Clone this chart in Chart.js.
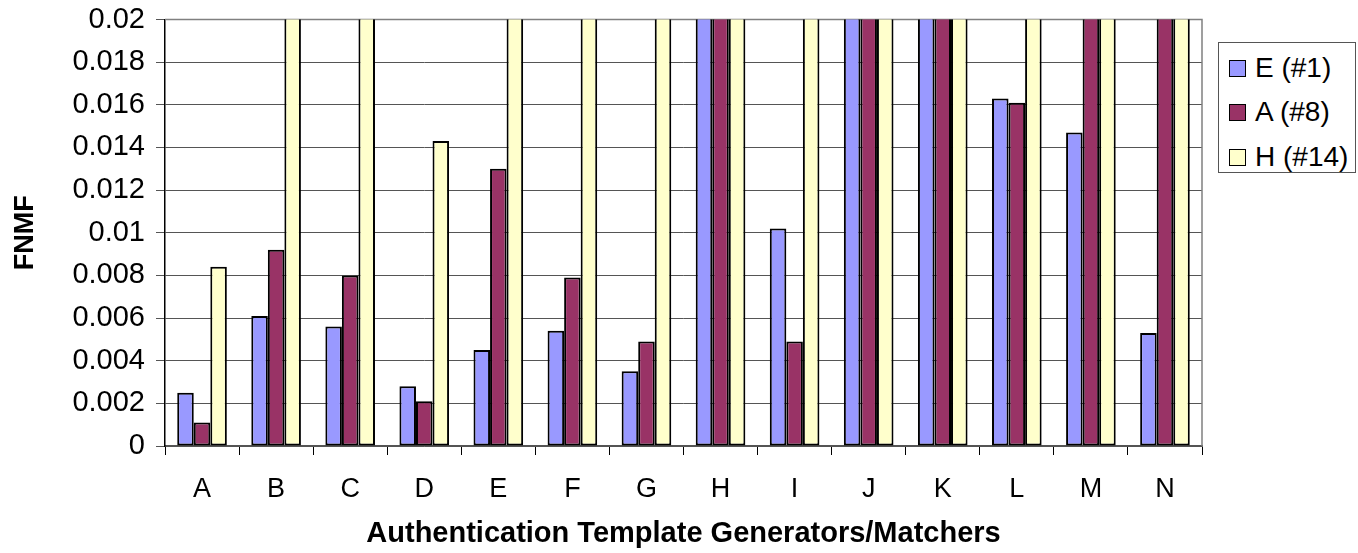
<!DOCTYPE html>
<html>
<head>
<meta charset="utf-8">
<script src="https://cdn.jsdelivr.net/npm/chart.js@4/dist/chart.umd.min.js"></script>
<style>
    html, body { margin: 0; padding: 0; background: #fff; }
    #wrap { position: relative; width: 1358px; height: 553px; }
    #legend {
        position: absolute; left: 1218px; top: 42px; width: 138px; height: 131px;
        border: 1px solid #555; box-sizing: border-box; background: #fff;
        font-family: Arial, 'Liberation Sans', sans-serif; font-size: 28px; color: #000;
    }
    #legend .item { position: absolute; left: 10px; height: 30px; line-height: 30px; white-space: nowrap; }
    #legend .box {
        display: inline-block; width: 17px; height: 17px; box-sizing: border-box;
        border: 1.5px solid #000; vertical-align: middle; margin-right: 9px; margin-top: -3px;
    }
</style>
</head>
<body>
<div id="wrap">
    <canvas id="fnmf-chart" width="1358" height="553"></canvas>
    <div id="legend"></div>
</div>
<script>
    // Data; bars that run past the top of the axis are clipped (value unknown, > 0.02)
    var categories = ['A', 'B', 'C', 'D', 'E', 'F', 'G', 'H', 'I', 'J', 'K', 'L', 'M', 'N'];
    var seriesNames = ['E (#1)', 'A (#8)', 'H (#14)'];
    var seriesColors = ['#9999FF', '#993366', '#FFFFCC'];
    var valuesE1 = [0.0025, 0.0061, 0.0056, 0.0028, 0.0045, 0.0054, 0.0035, 0.03, 0.0102, 0.03, 0.03, 0.0163, 0.0147, 0.0053];
    var valuesA8 = [0.0011, 0.0092, 0.0080, 0.0021, 0.0130, 0.0079, 0.0049, 0.03, 0.0049, 0.03, 0.03, 0.0161, 0.03, 0.03];
    var valuesH14 = [0.0084, 0.03, 0.03, 0.0143, 0.03, 0.03, 0.03, 0.03, 0.03, 0.03, 0.03, 0.03, 0.03, 0.03];
    var yTickLabels = ['0', '0.002', '0.004', '0.006', '0.008', '0.01', '0.012', '0.014', '0.016', '0.018', '0.02'];

    var fontFamily = "Arial, 'Liberation Sans', sans-serif";
    var seriesValues = [valuesE1, valuesA8, valuesH14];

    var datasets = seriesNames.map(function(name, i) {
        return {
            label: name,
            data: seriesValues[i],
            backgroundColor: seriesColors[i],
            borderColor: '#000',
            borderWidth: 2,
            borderSkipped: false,
            clip: 0,
            categoryPercentage: 0.67,
            barPercentage: 1.0
        };
    });

    // Gray frame on the top and right of the plot area
    var plotFrame = {
        id: 'plotFrame',
        beforeDatasetsDraw: function(chart) {
            var a = chart.chartArea;
            var ctx = chart.ctx;
            ctx.save();
            ctx.strokeStyle = '#808080';
            ctx.lineWidth = 1.5;
            ctx.beginPath();
            ctx.moveTo(a.left, a.top);
            ctx.lineTo(a.right, a.top);
            ctx.lineTo(a.right, a.bottom);
            ctx.stroke();
            ctx.restore();
        }
    };

    var ctx = document.getElementById('fnmf-chart');
    var chart = new Chart(ctx, {
        type: 'bar',
        data: { labels: categories, datasets: datasets },
        options: {
            responsive: false,
            animation: false,
            layout: { padding: { left: 0, right: 156, top: 0, bottom: 0 } },
            plugins: {
                legend: { display: false },
                tooltip: { enabled: false }
            },
            scales: {
                x: {
                    grid: {
                        display: true,
                        drawOnChartArea: false,
                        drawTicks: true,
                        tickLength: 9,
                        color: '#000',
                        lineWidth: 1
                    },
                    border: { display: true, color: '#555', width: 1.5 },
                    ticks: {
                        color: '#000',
                        padding: 18,
                        font: { family: fontFamily, size: 27 }
                    },
                    title: {
                        display: true,
                        text: 'Authentication Template Generators/Matchers',
                        color: '#000',
                        padding: { top: 0, bottom: 2 },
                        font: { family: fontFamily, size: 29, weight: 'bold' }
                    },
                    afterFit: function(scale) { scale.height = 107; }
                },
                y: {
                    min: 0,
                    max: 0.02,
                    ticks: {
                        stepSize: 0.002,
                        color: '#000',
                        padding: 11,
                        font: { family: fontFamily, size: 29 },
                        callback: function(value, index) { return yTickLabels[index]; }
                    },
                    grid: {
                        color: '#555',
                        lineWidth: 1,
                        tickLength: 9
                    },
                    border: { display: true, color: '#000', width: 1.5 },
                    title: {
                        display: true,
                        text: 'FNMF',
                        color: '#000',
                        padding: { top: 9, bottom: 0 },
                        font: { family: fontFamily, size: 27, weight: 'bold' }
                    },
                    afterFit: function(scale) {
                        scale.width = 165;
                        scale.paddingTop = 19.5;
                        scale.paddingBottom = 0;
                    }
                }
            }
        },
        plugins: [plotFrame]
    });

    // Legend box on the right
    var legend = document.getElementById('legend');
    var itemTops = [10, 54, 99];
    chart.data.datasets.forEach(function(ds, i) {
        var item = document.createElement('div');
        item.className = 'item';
        item.style.top = itemTops[i] + 'px';
        item.innerHTML = '<span class="box" style="background:' + ds.backgroundColor + '"></span>' + ds.label;
        legend.appendChild(item);
    });
</script>
</body>
</html>
